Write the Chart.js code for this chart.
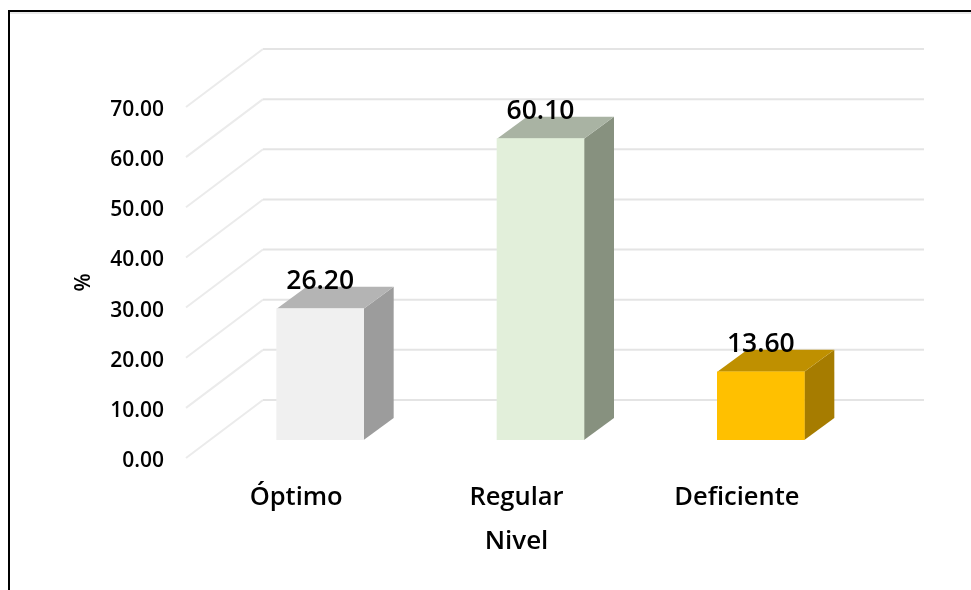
<!DOCTYPE html>
<html>
<head>
<meta charset="utf-8">
<title>Nivel</title>
<script src="https://cdn.jsdelivr.net/npm/chart.js@4"></script>
<style>
  html, body { margin: 0; background: #fff; }
  #wrap { position: relative; width: 971px; height: 590px; overflow: hidden; }
  #frame { position: absolute; left: 8px; top: 10px; width: 980px; height: 600px; border: 2px solid #000; box-sizing: border-box; box-shadow: inset 0 2px 0 #e9e9e9; }
  canvas { position: absolute; left: 0; top: 0; }
</style>
</head>
<body>
<div id="wrap">
  <div id="frame"></div>
  <canvas id="myChart" width="971" height="590"></canvas>
</div>
<script>
const categories = ["Óptimo", "Regular", "Deficiente"];
const values = [26.2, 60.1, 13.6];
const frontColors = ["#f0f0f0", "#e2efda", "#ffc000"];
const topColors = ["#b4b4b4", "#a9b3a3", "#bf9000"];
const sideColors = ["#9c9c9c", "#87917f", "#a67c00"];

const FONT = "'Open Sans', sans-serif";
const wall = { dx: 77, dy: -58 };    // front edge of the floor to the back wall
const barPlane = { dx: 24, dy: -18 }; // floor edge to the front of the bars
const depth = { dx: 30, dy: -22 };    // front to back of a bar

function poly(c, pts, color) {
  c.fillStyle = color;
  c.beginPath();
  pts.forEach((p, i) => (i ? c.lineTo(p[0], p[1]) : c.moveTo(p[0], p[1])));
  c.closePath();
  c.fill();
}

// gridlines run along the floor side, then across the back wall
const wallGrid = {
  id: "wallGrid",
  beforeDatasetsDraw(chart) {
    const c = chart.ctx;
    const area = chart.chartArea;
    const y = chart.scales.y;
    c.save();
    c.lineWidth = 2;
    y.ticks.forEach((t) => {
      const py = y.getPixelForValue(t.value);
      c.strokeStyle = "#ebebeb";
      c.beginPath();
      c.moveTo(area.left, py);
      c.lineTo(area.left + wall.dx, py + wall.dy);
      c.stroke();
      c.strokeStyle = "#e4e4e4";
      c.beginPath();
      c.moveTo(area.left + wall.dx, py + wall.dy);
      c.lineTo(area.right + wall.dx, py + wall.dy);
      c.stroke();
    });
    c.restore();
  },
};

// side and top faces of each bar, and the shift of the whole bar off the floor edge
const bars3d = {
  id: "bars3d",
  beforeDatasetDraw(chart) {
    const c = chart.ctx;
    c.save();
    c.translate(barPlane.dx, barPlane.dy);
    chart.getDatasetMeta(0).data.forEach((bar, i) => {
      const l = bar.x - bar.width / 2;
      const r = bar.x + bar.width / 2;
      poly(c, [[r, bar.y], [r + depth.dx, bar.y + depth.dy], [r + depth.dx, bar.base + depth.dy], [r, bar.base]], sideColors[i]);
      poly(c, [[l, bar.y], [l + depth.dx, bar.y + depth.dy], [r + depth.dx, bar.y + depth.dy], [r, bar.y]], topColors[i]);
    });
  },
  afterDatasetDraw(chart) {
    const c = chart.ctx;
    c.restore();
    c.save();
    c.fillStyle = "#000";
    c.font = "600 26.5px " + FONT;
    c.textAlign = "center";
    c.textBaseline = "middle";
    chart.getDatasetMeta(0).data.forEach((bar, i) => {
      c.fillText(values[i].toFixed(2), bar.x + barPlane.dx, bar.y + barPlane.dy - 27);
    });
    c.restore();
  },
};

new Chart(document.getElementById("myChart"), {
  type: "bar",
  data: {
    labels: categories,
    datasets: [
      {
        data: values,
        backgroundColor: frontColors,
        barThickness: 87,
      },
    ],
  },
  options: {
    responsive: false,
    animation: false,
    layout: { padding: { top: 107, right: 124 } },
    plugins: { legend: { display: false }, tooltip: { enabled: false } },
    scales: {
      x: {
        grid: { display: false },
        border: { display: false },
        afterFit: (s) => { s.height = 132; },
        ticks: { color: "#000", padding: 16, maxRotation: 0, font: { family: FONT, size: 25.5, weight: "600" } },
        title: { display: true, text: "Nivel", color: "#000", padding: { top: 0, bottom: 33 }, font: { family: FONT, size: 26, weight: "600" } },
      },
      y: {
        min: 0,
        max: 70,
        grid: { display: false },
        border: { display: false },
        afterFit: (s) => { s.width = 186; },
        ticks: {
          stepSize: 10,
          color: "#000",
          padding: 14,
          labelOffset: 3,
          callback: (v) => v.toFixed(2),
          font: { family: FONT, size: 21, weight: "600" },
        },
        title: { display: true, text: "%", color: "#000", padding: { top: 71, bottom: 0 }, font: { family: FONT, size: 21, weight: "600" } },
      },
    },
  },
  plugins: [wallGrid, bars3d],
});
</script>
</body>
</html>
